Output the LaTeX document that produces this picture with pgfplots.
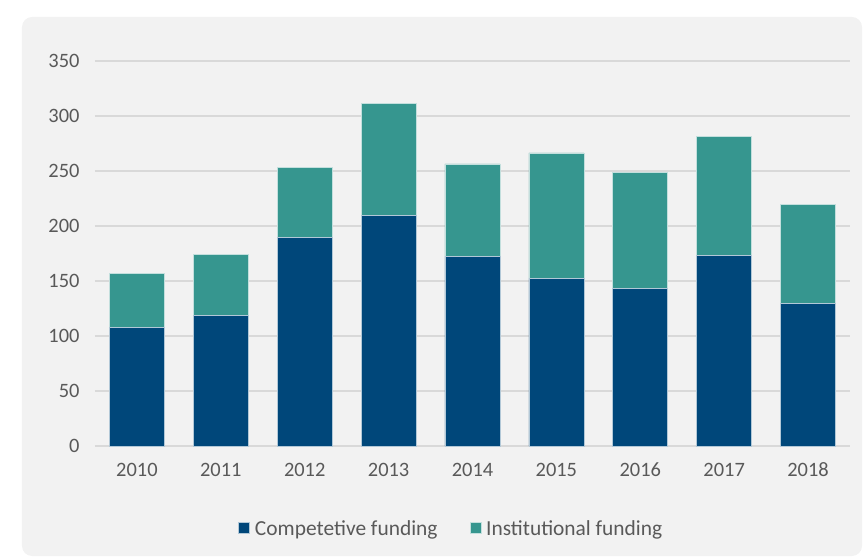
\documentclass[border=0pt]{standalone}
\usepackage{pgfplots}
\pgfplotsset{compat=1.18}
\usepackage{fontspec}
\setmainfont{Carlito}
\definecolor{compblue}{HTML}{00477A}
\definecolor{insteal}{HTML}{36968F}
\definecolor{bggray}{HTML}{F2F2F2}
\definecolor{gridgray}{HTML}{D9D9D9}
\definecolor{txtgray}{HTML}{595959}
\begin{document}
\begin{tikzpicture}
\useasboundingbox (-95bp,-114bp) rectangle (771bp,446bp);
\fill[bggray, rounded corners=10bp] (-73bp,-110bp) rectangle (767bp,429bp);
\begin{axis}[
    at={(0,0)}, anchor=south west,
    scale only axis,
    width=755bp, height=385bp,
    ybar stacked,
    bar width=55bp,
    xmin=-0.5, xmax=8.5,
    ymin=0, ymax=350,
    ytick={0,50,...,350},
    xtick=data,
    xticklabels={2010,2011,2012,2013,2014,2015,2016,2017,2018},
    axis line style={draw=none},
    major tick length=0pt,
    ymajorgrids,
    grid style={gridgray, line width=1.2bp},
    tick label style={font=\fontsize{20.5}{22}\selectfont, text=txtgray},
    /pgf/number format/assume math mode=true,
    yticklabel style={xshift=-12bp},
    xticklabel style={yshift=-13bp, text height=14bp, text depth=0bp},
    legend style={at={(0.472,-0.215)}, anchor=center, draw=none, fill=none,
        legend columns=2, font=\fontsize{21.5}{23}\selectfont, text=txtgray,
        /tikz/every odd column/.append style={column sep=3bp},
        /tikz/every even column/.append style={column sep=30bp}},
    legend image code/.code={\fill[#1] (0bp,-5bp) rectangle (11bp,6bp);},
]
\addplot[fill=compblue, draw=white!70!compblue, line width=0.6bp] coordinates {
    (0,108) (1,119) (2,189.5) (3,210) (4,172.5) (5,152.5) (6,143) (7,173.5) (8,130)
};
\addplot[fill=insteal, draw=white!70!insteal, line width=0.6bp] coordinates {
    (0,49) (1,55.5) (2,63.5) (3,101.5) (4,84) (5,114) (6,106) (7,108) (8,89.5)
};
\legend{Competetive funding, Institutional funding}
\end{axis}
\end{tikzpicture}
\end{document}
